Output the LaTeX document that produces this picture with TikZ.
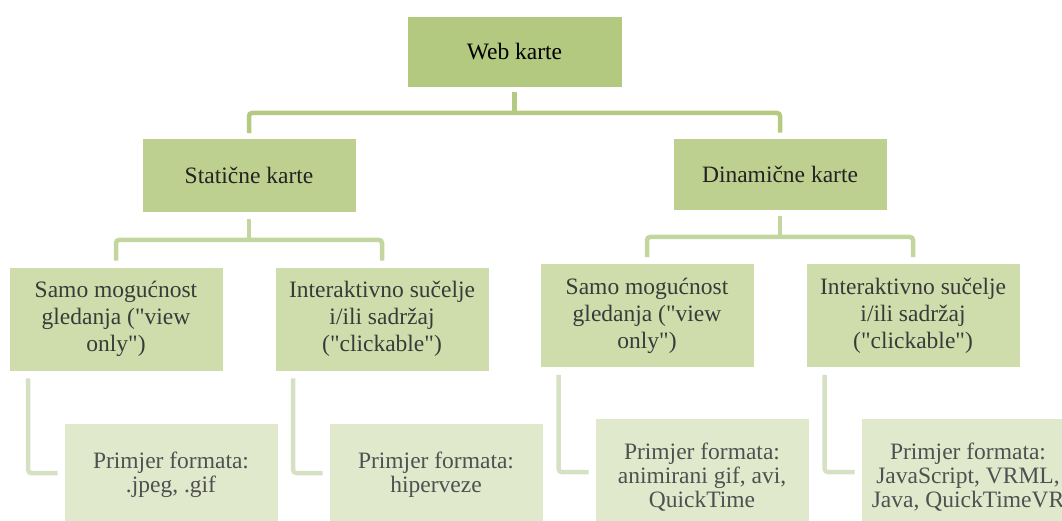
\documentclass[tikz,border=0pt]{standalone}
\usepackage{fontspec}
\setmainfont{Liberation Serif}[Ligatures=TeXOff]
\definecolor{cA}{RGB}{179,201,127}
\definecolor{cB}{RGB}{189,208,143}
\definecolor{cC}{RGB}{206,221,171}
\definecolor{cD}{RGB}{225,233,205}
\definecolor{lnA}{RGB}{180,202,128}
\definecolor{lnB}{RGB}{195,214,160}
\definecolor{lnC}{RGB}{214,225,196}
\definecolor{tB}{RGB}{35,35,35}
\definecolor{tC}{RGB}{58,58,58}
\definecolor{tD}{RGB}{80,80,80}
\tikzset{
  bx/.style={rectangle, draw=white, line width=0.6pt, minimum width=214pt, inner sep=0pt, align=center, font=\fontsize{23.5}{27}\selectfont},
  lvA/.style={bx, fill=cA, text=black},
  lvB/.style={bx, fill=cB, text=tB},
  lvC/.style={bx, fill=cC, text=tC, minimum height=104pt},
  lvD/.style={bx, fill=cD, text=tD, font=\fontsize{23.5}{24}\selectfont},
  cnA/.style={draw=lnA, line width=4.5pt, rounded corners=3pt},
  cnB/.style={draw=lnB, line width=4.5pt, rounded corners=3pt},
  cnC/.style={draw=lnC, line width=4.5pt, rounded corners=3pt},
}
\begin{document}
\begin{tikzpicture}[x=1pt,y=-1pt]
\useasboundingbox (0,0) rectangle (1062,521);
\clip (0,0) rectangle (1062,521);
% level 1
\node[lvA, minimum width=215pt, minimum height=71pt] (web) at (514.5,51.5) {Web karte};
% level 2
\node[lvB, minimum height=74pt] (stat) at (249,175.5) {Statične karte};
\node[lvB, minimum height=72pt] (din) at (780,174) {Dinamične karte};
% level 3
\node[lvC] (s1) at (116,319) {Samo mogućnost\\gledanja ("view\\only")};
\node[lvC] (i1) at (382,319) {Interaktivno sučelje\\i/ili sadržaj\\("clickable")};
\node[lvC] (s2) at (647,315.5) {Samo mogućnost\\gledanja ("view\\only")};
\node[lvC] (i2) at (913,315.5) {Interaktivno sučelje\\i/ili sadržaj\\("clickable")};
% level 4
\node[lvD, minimum height=104pt] (p1) at (171,475) {Primjer formata:\\.jpeg, .gif};
\node[lvD, minimum height=104pt] (p2) at (436,475) {Primjer formata:\\hiperveze};
\node[lvD, minimum height=118pt] (p3) at (702,477) {Primjer formata:\\animirani gif, avi,\\QuickTime};
\node[lvD, minimum height=118pt] (p4) at (968,477) {Primjer formata:\\JavaScript, VRML,\\Java, QuickTimeVR};
% connectors level 1 -> 2
\coordinate (b1) at (514.5,113);
\draw[cnA] ([yshift=-5pt]web.south) -- (b1);
\draw[cnA] ([yshift=5pt]stat.north) |- (b1) -| ([yshift=5pt]din.north);
% connectors level 2 -> 3
\coordinate (b2) at (249,240);
\draw[cnB] ([yshift=-6pt]stat.south) -- (b2);
\draw[cnB] ([yshift=6pt]s1.north) |- (b2) -| ([yshift=6pt]i1.north);
\coordinate (b3) at (780,237);
\draw[cnB] ([yshift=-6pt]din.south) -- (b3);
\draw[cnB] ([yshift=6pt]s2.north) |- (b3) -| ([yshift=6pt]i2.north);
% connectors level 3 -> 4
\draw[cnC] ([shift={(19.5pt,-7pt)}]s1.south west) |- ([shift={(-6pt,2pt)}]p1.west);
\draw[cnC] ([shift={(18.5pt,-7pt)}]i1.south west) |- ([shift={(-6pt,2pt)}]p2.west);
\draw[cnC] ([shift={(19pt,-7pt)}]s2.south west) |- ([shift={(-6pt,5pt)}]p3.west);
\draw[cnC] ([shift={(19pt,-7pt)}]i2.south west) |- ([shift={(-6pt,5pt)}]p4.west);
\end{tikzpicture}
\end{document}
